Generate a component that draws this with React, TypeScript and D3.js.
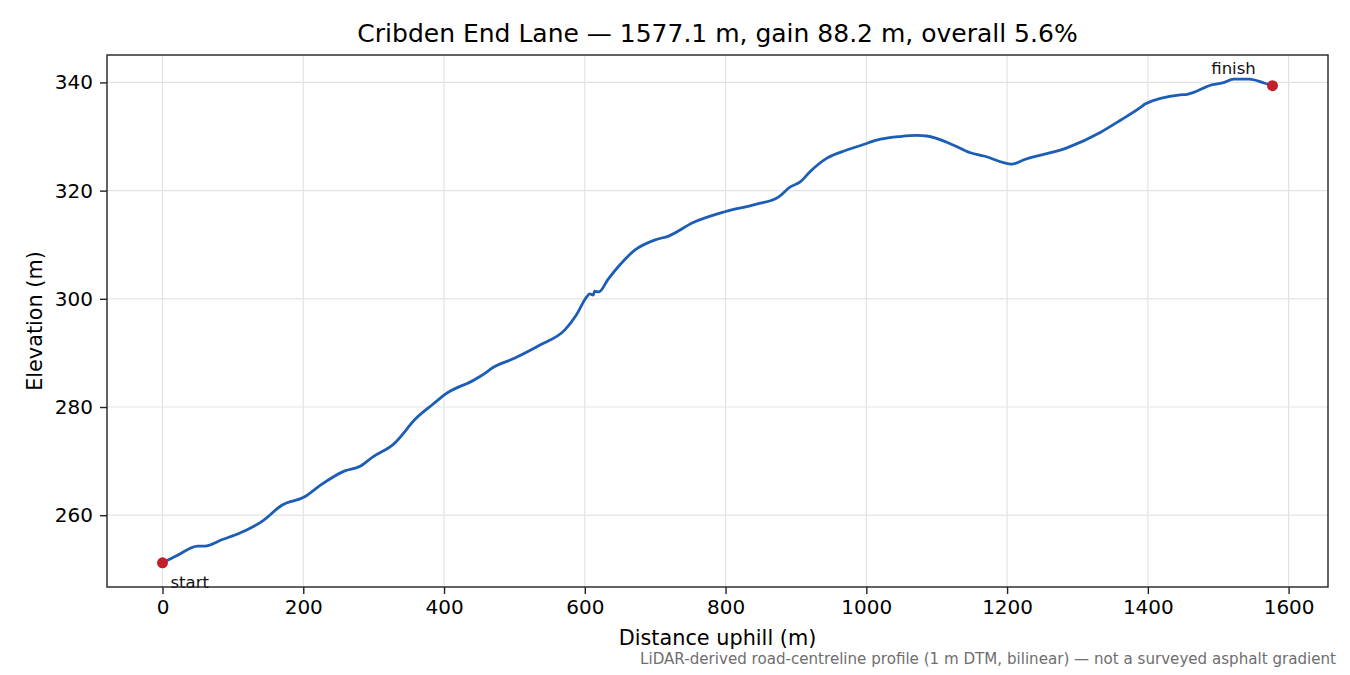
import React, { useEffect, useRef } from 'react'
import * as d3 from 'd3'

// profile samples (distance m, elevation m)
const distance = [
  0, 20, 50, 60, 85, 110, 143, 169, 202, 226, 259, 280, 299, 328, 361, 385, 401, 444,
  462, 466, 500, 537, 572, 588, 603, 607, 612, 614, 620, 633, 650, 671, 700, 719, 754,
  799, 844, 875, 892, 906, 920, 944, 972, 991, 1020, 1048, 1072, 1086, 1124, 1148,
  1167, 1207, 1226, 1285, 1333, 1361, 1392, 1396, 1446, 1456, 1492, 1506, 1522, 1544,
  1565, 1577.1,
]
const elevation = [
  251.2, 252.5, 254.3, 254.3, 255.5, 256.7, 259.0, 261.8, 263.4, 265.7, 268.2, 269.0,
  270.8, 273.1, 278.0, 280.6, 282.3, 285.1, 286.6, 287.0, 289.0, 291.5, 294.3, 297.0,
  300.4, 300.9, 300.7, 301.4, 301.3, 303.6, 306.3, 309.0, 310.9, 311.6, 314.1, 316.1,
  317.5, 318.8, 320.7, 321.6, 323.5, 326.0, 327.5, 328.3, 329.5, 330.0, 330.2, 330.1,
  328.4, 327.0, 326.4, 324.9, 325.8, 327.9, 330.8, 333.0, 335.6, 336.0, 337.7, 337.8,
  339.6, 339.9, 340.6, 340.6, 339.9, 339.4,
]
const xTicks = [0, 200, 400, 600, 800, 1000, 1200, 1400, 1600]
const yTicks = [260, 280, 300, 320, 340]

const title = 'Cribden End Lane — 1577.1 m, gain 88.2 m, overall 5.6%'
const footnote = 'LiDAR-derived road-centreline profile (1 m DTM, bilinear) — not a surveyed asphalt gradient'

export default function App() {
  const ref = useRef<SVGSVGElement>(null)

  useEffect(() => {
    if (!ref.current) return
    const svg = d3.select(ref.current)
    svg.selectAll('*').remove()

    const width = 1350
    const height = 675
    const margin = { top: 55, right: 22, bottom: 88, left: 107 }
    const w = width - margin.left - margin.right
    const h = height - margin.top - margin.bottom
    const font = 'DejaVu Sans, sans-serif'

    const data = distance.map((d, i) => ({ d, e: elevation[i] }))

    // matplotlib-style 5% padding around the data
    const xMax = d3.max(distance) as number
    const xPad = xMax * 0.05
    const [eMin, eMax] = d3.extent(elevation) as [number, number]
    const yPad = (eMax - eMin) * 0.05

    const x = d3.scaleLinear().domain([-xPad, xMax + xPad]).range([0, w])
    const y = d3.scaleLinear().domain([eMin - yPad, eMax + yPad]).range([h, 0])

    svg.append('rect').attr('width', width).attr('height', height).attr('fill', '#fff')

    const g = svg.append('g').attr('transform', `translate(${margin.left},${margin.top})`)

    // grid
    g.append('g')
      .selectAll('line')
      .data(xTicks)
      .enter()
      .append('line')
      .attr('x1', (d) => x(d))
      .attr('x2', (d) => x(d))
      .attr('y1', 0)
      .attr('y2', h)
      .attr('stroke', '#e3e3e3')
      .attr('stroke-width', 1.2)

    g.append('g')
      .selectAll('line')
      .data(yTicks)
      .enter()
      .append('line')
      .attr('y1', (d) => y(d))
      .attr('y2', (d) => y(d))
      .attr('x1', 0)
      .attr('x2', w)
      .attr('stroke', '#e3e3e3')
      .attr('stroke-width', 1.2)

    // axes
    const xAxis = g.append('g')
      .attr('transform', `translate(0,${h})`)
      .call(d3.axisBottom(x).tickValues(xTicks).tickSize(7).tickPadding(6).tickFormat(d3.format('d')))
    const yAxis = g.append('g')
      .call(d3.axisLeft(y).tickValues(yTicks).tickSize(7).tickPadding(7).tickFormat(d3.format('d')))

    for (const ax of [xAxis, yAxis]) {
      ax.select('.domain').remove()
      ax.selectAll('line').attr('stroke', '#222').attr('stroke-width', 1.4)
      ax.selectAll('text')
        .attr('fill', '#000')
        .style('font-family', font)
        .style('font-size', '20px')
    }

    // line
    const line = d3.line<{ d: number; e: number }>()
      .x((p) => x(p.d))
      .y((p) => y(p.e))
      .curve(d3.curveMonotoneX)

    g.append('path')
      .datum(data)
      .attr('d', line)
      .attr('fill', 'none')
      .attr('stroke', '#1c5db5')
      .attr('stroke-width', 2.8)
      .attr('stroke-linejoin', 'round')
      .attr('stroke-linecap', 'round')

    // endpoints
    const first = data[0]
    const last = data[data.length - 1]
    g.selectAll('circle.end')
      .data([first, last])
      .enter()
      .append('circle')
      .attr('cx', (p) => x(p.d))
      .attr('cy', (p) => y(p.e))
      .attr('r', 5.5)
      .attr('fill', '#c41e2a')

    g.append('text')
      .attr('x', x(first.d) + 8)
      .attr('y', y(first.e) + 25)
      .text('start')
      .style('font-family', font)
      .style('font-size', '16.5px')
      .attr('fill', '#111')

    g.append('text')
      .attr('x', x(last.d) - 39)
      .attr('y', y(last.e) - 12)
      .attr('text-anchor', 'middle')
      .text('finish')
      .style('font-family', font)
      .style('font-size', '16.5px')
      .attr('fill', '#111')

    // frame
    g.append('rect')
      .attr('width', w)
      .attr('height', h)
      .attr('fill', 'none')
      .attr('stroke', '#222')
      .attr('stroke-width', 1.4)

    // labels
    svg.append('text')
      .attr('x', margin.left + w / 2)
      .attr('y', 42)
      .attr('text-anchor', 'middle')
      .text(title)
      .style('font-family', font)
      .style('font-size', '25px')
      .attr('fill', '#000')

    svg.append('text')
      .attr('x', margin.left + w / 2)
      .attr('y', 645)
      .attr('text-anchor', 'middle')
      .text('Distance uphill (m)')
      .style('font-family', font)
      .style('font-size', '20.8px')
      .attr('fill', '#000')

    svg.append('text')
      .attr('transform', `translate(42,${margin.top + h / 2}) rotate(-90)`)
      .attr('text-anchor', 'middle')
      .text('Elevation (m)')
      .style('font-family', font)
      .style('font-size', '20.8px')
      .attr('fill', '#000')

    svg.append('text')
      .attr('x', 1336)
      .attr('y', 664)
      .attr('text-anchor', 'end')
      .text(footnote)
      .style('font-family', font)
      .style('font-size', '15.1px')
      .attr('fill', '#6e6e6e')
  }, [])

  return (
    <div style={{ position: 'absolute', left: 0, top: 0 }}>
      <svg ref={ref} width={1350} height={675} style={{ display: 'block' }} />
    </div>
  )
}
